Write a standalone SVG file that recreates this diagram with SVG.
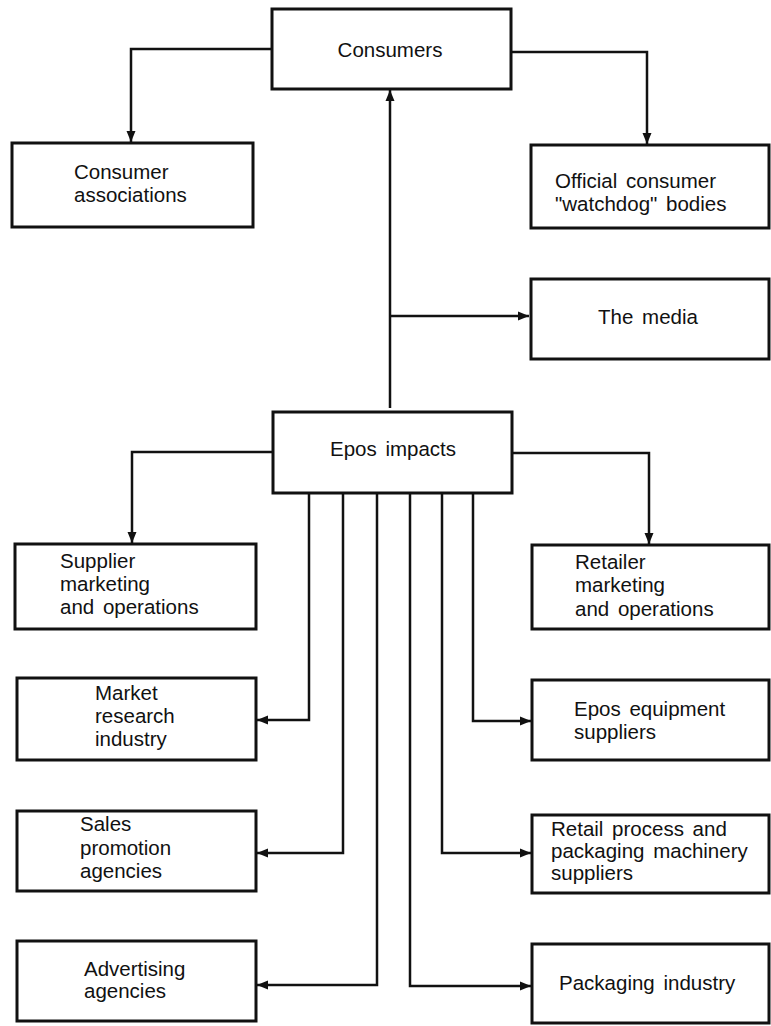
<svg xmlns="http://www.w3.org/2000/svg" width="771" height="1026" viewBox="0 0 771 1026">
<defs>
<style>
.box{fill:#fff;stroke:#111;stroke-width:3}
.ln{fill:none;stroke:#111;stroke-width:2.5;stroke-linejoin:miter}
.t{font-family:"Liberation Sans",Arial,sans-serif;font-size:20.5px;fill:#111;word-spacing:3px}
.c{text-anchor:middle}
</style>
<marker id="ah" markerUnits="userSpaceOnUse" markerWidth="12" markerHeight="11" refX="11" refY="5.5" orient="auto">
<path d="M0,1 L11,5.5 L0,10 Z" fill="#111"/>
</marker>
</defs>
<rect width="771" height="1026" fill="#fff"/>
<g id="connectors">
<polyline class="ln" points="272,49 131,49 131,142" marker-end="url(#ah)"/>
<polyline class="ln" points="511,52 647,52 647,144" marker-end="url(#ah)"/>
<line class="ln" x1="390" y1="408" x2="390" y2="90" marker-end="url(#ah)"/>
<polyline class="ln" points="390,316 529,316" marker-end="url(#ah)"/>
<polyline class="ln" points="273,452 132,452 132,543" marker-end="url(#ah)"/>
<polyline class="ln" points="512,453 649,453 649,544" marker-end="url(#ah)"/>
<polyline class="ln" points="309,493 309,720 257,720" marker-end="url(#ah)"/>
<polyline class="ln" points="343,493 343,853 257,853" marker-end="url(#ah)"/>
<polyline class="ln" points="377,493 377,985 257,985" marker-end="url(#ah)"/>
<polyline class="ln" points="410,493 410,986 531,986" marker-end="url(#ah)"/>
<polyline class="ln" points="442,493 442,853 531,853" marker-end="url(#ah)"/>
<polyline class="ln" points="473,493 473,721 531,721" marker-end="url(#ah)"/>
</g>
<g id="consumers">
<rect class="box" x="272" y="9" width="239" height="80"/>
<text class="t c" x="390" y="57">Consumers</text>
</g>
<g id="consumer-associations">
<rect class="box" x="12" y="143" width="241" height="84"/>
<text class="t" x="74" y="179">Consumer</text>
<text class="t" x="74" y="202">associations</text>
</g>
<g id="official-bodies">
<rect class="box" x="531" y="145" width="238" height="83"/>
<text class="t" x="555" y="188">Official consumer</text>
<text class="t" x="555" y="211">"watchdog" bodies</text>
</g>
<g id="the-media">
<rect class="box" x="531" y="279" width="238" height="80"/>
<text class="t c" x="648" y="324">The media</text>
</g>
<g id="epos-impacts">
<rect class="box" x="273" y="412" width="239" height="81"/>
<text class="t c" x="393" y="456">Epos impacts</text>
</g>
<g id="supplier-marketing">
<rect class="box" x="15" y="544" width="241" height="85"/>
<text class="t" x="60" y="568">Supplier</text>
<text class="t" x="60" y="591">marketing</text>
<text class="t" x="60" y="614">and operations</text>
</g>
<g id="retailer-marketing">
<rect class="box" x="532" y="545" width="237" height="84"/>
<text class="t" x="575" y="569">Retailer</text>
<text class="t" x="575" y="592">marketing</text>
<text class="t" x="575" y="616">and operations</text>
</g>
<g id="market-research">
<rect class="box" x="17" y="678" width="239" height="82"/>
<text class="t" x="95" y="700">Market</text>
<text class="t" x="95" y="723">research</text>
<text class="t" x="95" y="746">industry</text>
</g>
<g id="epos-equipment">
<rect class="box" x="532" y="680" width="237" height="80"/>
<text class="t" x="574" y="716">Epos equipment</text>
<text class="t" x="574" y="739">suppliers</text>
</g>
<g id="sales-promotion">
<rect class="box" x="17" y="811" width="239" height="80"/>
<text class="t" x="80" y="831">Sales</text>
<text class="t" x="80" y="855">promotion</text>
<text class="t" x="80" y="878">agencies</text>
</g>
<g id="retail-process">
<rect class="box" x="532" y="815" width="237" height="78"/>
<text class="t" x="551" y="836">Retail process and</text>
<text class="t" x="551" y="858">packaging machinery</text>
<text class="t" x="551" y="880">suppliers</text>
</g>
<g id="advertising">
<rect class="box" x="17" y="941" width="239" height="80"/>
<text class="t" x="84" y="976">Advertising</text>
<text class="t" x="84" y="998">agencies</text>
</g>
<g id="packaging-industry">
<rect class="box" x="532" y="944" width="237" height="79"/>
<text class="t" x="559" y="990">Packaging industry</text>
</g>
</svg>
